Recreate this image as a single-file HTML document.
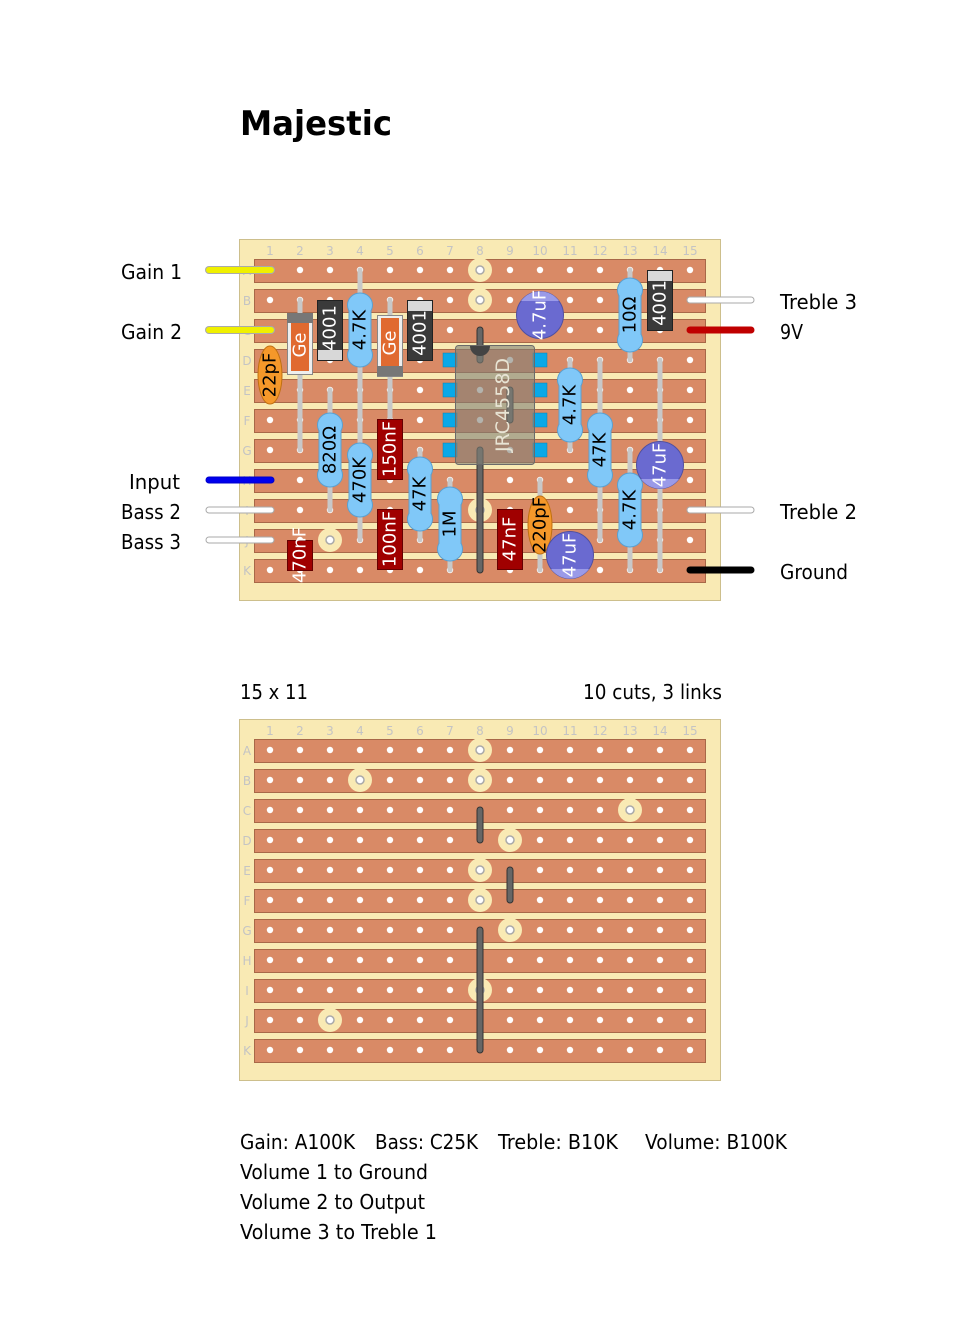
<!DOCTYPE html>
<html><head><meta charset="utf-8"><style>
html,body{margin:0;padding:0;background:#fff;}
svg{display:block;font-family:"DejaVu Sans","Liberation Sans",sans-serif;}
</style></head><body>
<svg width="954" height="1333" viewBox="0 0 954 1333" xmlns="http://www.w3.org/2000/svg">
<defs>
<pattern id="holes" patternUnits="userSpaceOnUse" x="255" y="259" width="30" height="30">
<circle cx="15" cy="11" r="3.2" fill="#fff"/>
</pattern>
<g id="strips">
<rect x="254.5" y="259.5" width="451" height="23" fill="#d98a66" stroke="#a86848"/>
<rect x="254.5" y="289.5" width="451" height="23" fill="#d98a66" stroke="#a86848"/>
<rect x="254.5" y="319.5" width="451" height="23" fill="#d98a66" stroke="#a86848"/>
<rect x="254.5" y="349.5" width="451" height="23" fill="#d98a66" stroke="#a86848"/>
<rect x="254.5" y="379.5" width="451" height="23" fill="#d98a66" stroke="#a86848"/>
<rect x="254.5" y="409.5" width="451" height="23" fill="#d98a66" stroke="#a86848"/>
<rect x="254.5" y="439.5" width="451" height="23" fill="#d98a66" stroke="#a86848"/>
<rect x="254.5" y="469.5" width="451" height="23" fill="#d98a66" stroke="#a86848"/>
<rect x="254.5" y="499.5" width="451" height="23" fill="#d98a66" stroke="#a86848"/>
<rect x="254.5" y="529.5" width="451" height="23" fill="#d98a66" stroke="#a86848"/>
<rect x="254.5" y="559.5" width="451" height="23" fill="#d98a66" stroke="#a86848"/>
<rect x="255" y="259" width="450" height="330" fill="url(#holes)"/>
</g>
<g id="labels" font-size="12" fill="#c4c4c4" text-anchor="middle">
<text x="270" y="255">1</text><text x="300" y="255">2</text><text x="330" y="255">3</text><text x="360" y="255">4</text><text x="390" y="255">5</text><text x="420" y="255">6</text><text x="450" y="255">7</text><text x="480" y="255">8</text><text x="510" y="255">9</text><text x="540" y="255">10</text><text x="570" y="255">11</text><text x="600" y="255">12</text><text x="630" y="255">13</text><text x="660" y="255">14</text><text x="690" y="255">15</text>
<text x="247" y="275">A</text><text x="247" y="305">B</text><text x="247" y="335">C</text><text x="247" y="365">D</text><text x="247" y="395">E</text><text x="247" y="425">F</text><text x="247" y="455">G</text><text x="247" y="485">H</text><text x="247" y="515">I</text><text x="247" y="545">J</text><text x="247" y="575">K</text>
</g>
<g id="cut"><circle r="12" fill="#f9eab4"/><circle r="4" fill="#fff" stroke="#aaa" stroke-width="1.5"/></g>
</defs>

<text x="240" y="135" font-size="34" font-weight="bold" fill="#000" textLength="152" lengthAdjust="spacingAndGlyphs">Majestic</text>

<!-- Board 1 -->
<rect x="239.5" y="239.5" width="481" height="361" fill="#f9eab4" stroke="#cdbf8c"/>
<use href="#labels"/>
<use href="#strips"/>
<use href="#cut" x="480" y="270"/><use href="#cut" x="480" y="300"/><use href="#cut" x="480" y="510"/><use href="#cut" x="330" y="540"/>
<g stroke="#333" stroke-width="7" stroke-linecap="round"><line x1="480" y1="330" x2="480" y2="360"/><line x1="510" y1="390" x2="510" y2="420"/><line x1="480" y1="450" x2="480" y2="570"/></g>
<g stroke="#666" stroke-width="5" stroke-linecap="round"><line x1="480" y1="330" x2="480" y2="360"/><line x1="510" y1="390" x2="510" y2="420"/><line x1="480" y1="450" x2="480" y2="570"/></g>

<g stroke="#c8c8c8" stroke-width="5" stroke-linecap="round">
<line x1="300" y1="300" x2="300" y2="450"/>
<line x1="360" y1="270" x2="360" y2="450"/>
<line x1="390" y1="300" x2="390" y2="450"/>
<line x1="330" y1="390" x2="330" y2="510"/>
<line x1="360" y1="420" x2="360" y2="540"/>
<line x1="420" y1="450" x2="420" y2="540"/>
<line x1="450" y1="480" x2="450" y2="570"/>
<line x1="630" y1="270" x2="630" y2="360"/>
<line x1="570" y1="360" x2="570" y2="450"/>
<line x1="600" y1="360" x2="600" y2="540"/>
<line x1="630" y1="450" x2="630" y2="570"/>
<line x1="660" y1="360" x2="660" y2="570"/>
<line x1="540" y1="480" x2="540" y2="570"/>
</g>

<g fill="#0aa8e8" stroke="#0a80b0" stroke-width="0.5">
<rect x="443" y="353" width="14" height="14"/><rect x="443" y="383" width="14" height="14"/><rect x="443" y="413" width="14" height="14"/><rect x="443" y="443" width="14" height="14"/>
<rect x="533" y="353" width="14" height="14"/><rect x="533" y="383" width="14" height="14"/><rect x="533" y="413" width="14" height="14"/><rect x="533" y="443" width="14" height="14"/>
</g>
<rect x="455.5" y="345.5" width="79" height="119" rx="3" fill="rgba(128,128,118,0.6)" stroke="#6a6a6a"/>
<path d="M470 346 A10 10 0 0 0 490 346 Z" fill="#444"/>
<text transform="translate(503,405) rotate(-90)" font-size="19" fill="#e8e4d4" text-anchor="middle" dominant-baseline="central">JRC4558D</text>

<ellipse cx="270" cy="375" rx="12" ry="29" fill="#f5982a" stroke="#c07010"/>
<text transform="translate(270,375) rotate(-90)" font-size="18" fill="#000" text-anchor="middle" dominant-baseline="central">22pF</text>
<rect x="287.5" y="313.5" width="25" height="61" fill="#eee" stroke="#888"/><rect x="287" y="313" width="26" height="10" fill="#777"/><rect x="291" y="323" width="18" height="48" fill="#e06a30"/>
<text transform="translate(300,345) rotate(-90)" font-size="18" fill="#fff" text-anchor="middle" dominant-baseline="central">Ge</text>
<rect x="377.5" y="315.5" width="25" height="61" fill="#eee" stroke="#888"/><rect x="377" y="366" width="26" height="10" fill="#777"/><rect x="381" y="318" width="18" height="48" fill="#e06a30"/>
<text transform="translate(390,343) rotate(-90)" font-size="18" fill="#fff" text-anchor="middle" dominant-baseline="central">Ge</text>
<rect x="317.5" y="300.5" width="25" height="60" fill="#3a3a3a" stroke="#222"/><rect x="318" y="350" width="24" height="10" fill="#d8d8d8"/>
<text transform="translate(330,328) rotate(-90)" font-size="18" fill="#fff" text-anchor="middle" dominant-baseline="central">4001</text>
<rect x="407.5" y="300.5" width="25" height="60" fill="#3a3a3a" stroke="#222"/><rect x="408" y="301" width="24" height="10" fill="#d8d8d8"/>
<text transform="translate(420,333) rotate(-90)" font-size="18" fill="#fff" text-anchor="middle" dominant-baseline="central">4001</text>
<rect x="647.5" y="270.5" width="25" height="60" fill="#3a3a3a" stroke="#222"/><rect x="648" y="271" width="24" height="10" fill="#d8d8d8"/>
<text transform="translate(660,303) rotate(-90)" font-size="18" fill="#fff" text-anchor="middle" dominant-baseline="central">4001</text>

<g fill="#80c8f8" stroke="#5aa0d0" stroke-width="1">
<g transform="translate(360,330)"><rect x="-11" y="-34" width="22" height="68" rx="6"/><ellipse cx="0" cy="-25" rx="12.5" ry="12"/><ellipse cx="0" cy="25" rx="12.5" ry="12"/><rect x="-10.5" y="-25" width="21" height="50" stroke="none"/></g>
<g transform="translate(330,450)"><rect x="-11" y="-34" width="22" height="68" rx="6"/><ellipse cx="0" cy="-25" rx="12.5" ry="12"/><ellipse cx="0" cy="25" rx="12.5" ry="12"/><rect x="-10.5" y="-25" width="21" height="50" stroke="none"/></g>
<g transform="translate(360,480)"><rect x="-11" y="-34" width="22" height="68" rx="6"/><ellipse cx="0" cy="-25" rx="12.5" ry="12"/><ellipse cx="0" cy="25" rx="12.5" ry="12"/><rect x="-10.5" y="-25" width="21" height="50" stroke="none"/></g>
<g transform="translate(420,494)"><rect x="-11" y="-34" width="22" height="68" rx="6"/><ellipse cx="0" cy="-25" rx="12.5" ry="12"/><ellipse cx="0" cy="25" rx="12.5" ry="12"/><rect x="-10.5" y="-25" width="21" height="50" stroke="none"/></g>
<g transform="translate(450,524)"><rect x="-11" y="-34" width="22" height="68" rx="6"/><ellipse cx="0" cy="-25" rx="12.5" ry="12"/><ellipse cx="0" cy="25" rx="12.5" ry="12"/><rect x="-10.5" y="-25" width="21" height="50" stroke="none"/></g>
<g transform="translate(630,315)"><rect x="-11" y="-34" width="22" height="68" rx="6"/><ellipse cx="0" cy="-25" rx="12.5" ry="12"/><ellipse cx="0" cy="25" rx="12.5" ry="12"/><rect x="-10.5" y="-25" width="21" height="50" stroke="none"/></g>
<g transform="translate(570,405)"><rect x="-11" y="-34" width="22" height="68" rx="6"/><ellipse cx="0" cy="-25" rx="12.5" ry="12"/><ellipse cx="0" cy="25" rx="12.5" ry="12"/><rect x="-10.5" y="-25" width="21" height="50" stroke="none"/></g>
<g transform="translate(600,450)"><rect x="-11" y="-34" width="22" height="68" rx="6"/><ellipse cx="0" cy="-25" rx="12.5" ry="12"/><ellipse cx="0" cy="25" rx="12.5" ry="12"/><rect x="-10.5" y="-25" width="21" height="50" stroke="none"/></g>
<g transform="translate(630,510)"><rect x="-11" y="-34" width="22" height="68" rx="6"/><ellipse cx="0" cy="-25" rx="12.5" ry="12"/><ellipse cx="0" cy="25" rx="12.5" ry="12"/><rect x="-10.5" y="-25" width="21" height="50" stroke="none"/></g>
</g>
<g font-size="18" fill="#000" text-anchor="middle" dominant-baseline="central">
<text transform="translate(360,330) rotate(-90)">4.7K</text>
<text transform="translate(330,450) rotate(-90)">820Ω</text>
<text transform="translate(360,480) rotate(-90)">470K</text>
<text transform="translate(420,494) rotate(-90)">47K</text>
<text transform="translate(450,524) rotate(-90)">1M</text>
<text transform="translate(630,315) rotate(-90)">10Ω</text>
<text transform="translate(570,405) rotate(-90)">4.7K</text>
<text transform="translate(600,450) rotate(-90)">47K</text>
<text transform="translate(630,510) rotate(-90)">4.7K</text>
</g>

<g fill="#a00000" stroke="#600">
<rect x="377.5" y="419.5" width="25" height="60"/>
<rect x="377.5" y="509.5" width="25" height="60"/>
<rect x="287.5" y="540.5" width="25" height="30"/>
<rect x="497.5" y="509.5" width="25" height="60"/>
</g>
<g font-size="18" fill="#fff" text-anchor="middle" dominant-baseline="central">
<text transform="translate(390,449) rotate(-90)">150nF</text>
<text transform="translate(390,539) rotate(-90)">100nF</text>
<text transform="translate(300,555) rotate(-90)">470nF</text>
<text transform="translate(510,539) rotate(-90)">47nF</text>
</g>

<ellipse cx="540" cy="525" rx="12" ry="29" fill="#f5982a" stroke="#c07010"/>
<text transform="translate(540,525) rotate(-90)" font-size="18" fill="#000" text-anchor="middle" dominant-baseline="central">220pF</text>

<g>
<circle cx="540" cy="315" r="23.5" fill="#6a6ad0" stroke="#5050a0"/>
<path d="M521 301 A23.5 23.5 0 0 1 559 301 Z" fill="#9a9ae8"/>
<text transform="translate(540,315) rotate(-90)" font-size="18" fill="#fff" text-anchor="middle" dominant-baseline="central">4.7uF</text>
<circle cx="660" cy="465" r="23.5" fill="#6a6ad0" stroke="#5050a0"/>
<path d="M641 479 A23.5 23.5 0 0 0 679 479 Z" fill="#9a9ae8"/>
<text transform="translate(660,465) rotate(-90)" font-size="18" fill="#fff" text-anchor="middle" dominant-baseline="central">47uF</text>
<circle cx="570" cy="555" r="23.5" fill="#6a6ad0" stroke="#5050a0"/>
<path d="M551 569 A23.5 23.5 0 0 0 589 569 Z" fill="#9a9ae8"/>
<text transform="translate(570,555) rotate(-90)" font-size="18" fill="#fff" text-anchor="middle" dominant-baseline="central">47uF</text>
</g>

<g stroke-linecap="round">
<line x1="209" y1="270" x2="271" y2="270" stroke="#aaa" stroke-width="8"/><line x1="209" y1="270" x2="271" y2="270" stroke="#f0f000" stroke-width="6"/>
<line x1="209" y1="330" x2="271" y2="330" stroke="#aaa" stroke-width="8"/><line x1="209" y1="330" x2="271" y2="330" stroke="#f0f000" stroke-width="6"/>
<line x1="209" y1="480" x2="271" y2="480" stroke="#0000cc" stroke-width="7"/><line x1="209" y1="480" x2="271" y2="480" stroke="#0000ee" stroke-width="5"/>
<line x1="209" y1="510" x2="271" y2="510" stroke="#aaa" stroke-width="7"/><line x1="209" y1="510" x2="271" y2="510" stroke="#fff" stroke-width="5"/>
<line x1="209" y1="540" x2="271" y2="540" stroke="#aaa" stroke-width="7"/><line x1="209" y1="540" x2="271" y2="540" stroke="#fff" stroke-width="5"/>
<line x1="690" y1="300" x2="751" y2="300" stroke="#aaa" stroke-width="7"/><line x1="690" y1="300" x2="751" y2="300" stroke="#fff" stroke-width="5"/>
<line x1="690" y1="330" x2="751" y2="330" stroke="#c00000" stroke-width="7"/>
<line x1="690" y1="510" x2="751" y2="510" stroke="#aaa" stroke-width="7"/><line x1="690" y1="510" x2="751" y2="510" stroke="#fff" stroke-width="5"/>
<line x1="690" y1="570" x2="751" y2="570" stroke="#000" stroke-width="7"/>
</g>
<g font-size="20" fill="#000" lengthAdjust="spacingAndGlyphs">
<text x="121" y="279" textLength="61" lengthAdjust="spacingAndGlyphs">Gain 1</text>
<text x="121" y="339" textLength="61" lengthAdjust="spacingAndGlyphs">Gain 2</text>
<text x="129" y="489" textLength="51" lengthAdjust="spacingAndGlyphs">Input</text>
<text x="121" y="519" textLength="60" lengthAdjust="spacingAndGlyphs">Bass 2</text>
<text x="121" y="549" textLength="60" lengthAdjust="spacingAndGlyphs">Bass 3</text>
<text x="780" y="309" textLength="77" lengthAdjust="spacingAndGlyphs">Treble 3</text>
<text x="780" y="339" textLength="23" lengthAdjust="spacingAndGlyphs">9V</text>
<text x="780" y="519" textLength="77" lengthAdjust="spacingAndGlyphs">Treble 2</text>
<text x="780" y="579" textLength="68" lengthAdjust="spacingAndGlyphs">Ground</text>
<text x="240" y="699" textLength="68" lengthAdjust="spacingAndGlyphs">15 x 11</text>
<text x="583" y="699" textLength="139" lengthAdjust="spacingAndGlyphs">10 cuts, 3 links</text>
</g>

<rect x="239.5" y="719.5" width="481" height="361" fill="#f9eab4" stroke="#cdbf8c"/>
<g transform="translate(0,480)">
<use href="#labels"/>
<use href="#strips"/>
<use href="#cut" x="480" y="270"/><use href="#cut" x="360" y="300"/><use href="#cut" x="480" y="300"/><use href="#cut" x="630" y="330"/><use href="#cut" x="510" y="360"/><use href="#cut" x="480" y="390"/><use href="#cut" x="480" y="420"/><use href="#cut" x="510" y="450"/><use href="#cut" x="480" y="510"/><use href="#cut" x="330" y="540"/>
<g stroke="#333" stroke-width="7" stroke-linecap="round"><line x1="480" y1="330" x2="480" y2="360"/><line x1="510" y1="390" x2="510" y2="420"/><line x1="480" y1="450" x2="480" y2="570"/></g>
<g stroke="#666" stroke-width="5" stroke-linecap="round"><line x1="480" y1="330" x2="480" y2="360"/><line x1="510" y1="390" x2="510" y2="420"/><line x1="480" y1="450" x2="480" y2="570"/></g>
</g>

<g font-size="20" fill="#000">
<text x="240" y="1149" textLength="115" lengthAdjust="spacingAndGlyphs">Gain: A100K</text>
<text x="375" y="1149" textLength="103" lengthAdjust="spacingAndGlyphs">Bass: C25K</text>
<text x="498" y="1149" textLength="120" lengthAdjust="spacingAndGlyphs">Treble: B10K</text>
<text x="645" y="1149" textLength="142" lengthAdjust="spacingAndGlyphs">Volume: B100K</text>
<text x="240" y="1179" textLength="188" lengthAdjust="spacingAndGlyphs">Volume 1 to Ground</text>
<text x="240" y="1209" textLength="185" lengthAdjust="spacingAndGlyphs">Volume 2 to Output</text>
<text x="240" y="1239" textLength="197" lengthAdjust="spacingAndGlyphs">Volume 3 to Treble 1</text>
</g>
</svg>
</body></html>
